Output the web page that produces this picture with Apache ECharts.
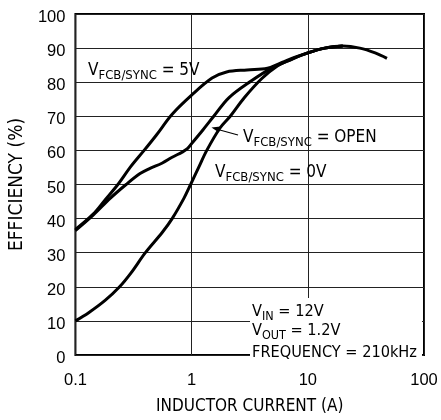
<!DOCTYPE html>
<html>
<head>
<meta charset="utf-8">
<script src="https://cdn.jsdelivr.net/npm/echarts@6/dist/echarts.min.js"></script>
<style>
html,body{margin:0;padding:0;background:#fff;}
#c{width:441px;height:420px;}
</style>
</head>
<body>
<div id="c"></div>
<script>
// ---- data ----
var xTickLabels = ['0.1', '1', '10', '100'];
var yTickLabels = ['0','10','20','30','40','50','60','70','80','90','100'];

var x5V = [0.1, 0.142, 0.18, 0.232, 0.3, 0.39, 0.5, 0.68, 1, 1.5, 2, 3, 4.5, 6, 8, 10, 14, 20, 28, 38, 48];
var y5V = [36.8, 41.3, 45.5, 50, 55.3, 60, 64.6, 70.6, 76.2, 81.2, 83, 83.6, 84.1, 85.8, 87.5, 88.6, 90, 90.6, 90, 88.6, 87];

var xOpen = [0.1, 0.142, 0.2, 0.273, 0.36, 0.43, 0.56, 0.68, 0.83, 0.92, 1, 1.25, 1.55, 2.1, 3.3, 4.8, 7, 10, 14, 20];
var yOpen = [36.5, 41, 46, 50, 53.2, 54.6, 56.3, 58, 59.5, 60.5, 62, 66, 70, 75.5, 80.5, 84, 86.5, 88.6, 90, 90.6];

var x0V = [0.1, 0.13, 0.18, 0.24, 0.3, 0.4, 0.56, 0.68, 0.86, 0.98, 1.15, 1.35, 1.75, 2.15, 2.85, 4, 5.5, 7, 10, 14, 20];
var y0V = [10, 12.4, 16, 20, 24, 30, 36, 40, 46, 50, 55, 60, 66.5, 70, 75.5, 81, 84.8, 86.5, 88.6, 90, 90.6];

var seriesNames = ['VFCB/SYNC = 5V', 'VFCB/SYNC = OPEN', 'VFCB/SYNC = 0V'];

function pairs(xs, ys) { return xs.map(function (x, i) { return [x, ys[i]]; }); }

var NARROW = "'Liberation Sans Narrow', 'DejaVu Sans Condensed', 'Liberation Sans', sans-serif";
var REG = "'Liberation Sans', Arial, sans-serif";

function sub(main1, subTxt, main2, big, small, raise) {
  return {
    text: '{m|' + main1 + '}{s|' + subTxt + '}{m|' + main2 + '}',
    rich: {
      m: { fontSize: big, fontFamily: NARROW, fill: '#000', lineHeight: big, padding: [0, 0, raise, 0], verticalAlign: 'bottom' },
      s: { fontSize: small, fontFamily: NARROW, fill: '#000', lineHeight: small, verticalAlign: 'bottom' }
    }
  };
}

var chart = echarts.init(document.getElementById('c'), null, { renderer: 'canvas' });

var lineStyle = { color: '#000', width: 3 };
var series = [[x5V, y5V], [xOpen, yOpen], [x0V, y0V]].map(function (d, i) {
  return {
    name: seriesNames[i],
    type: 'line',
    data: pairs(d[0], d[1]),
    smooth: 0.35,
    showSymbol: false,
    symbol: 'none',
    lineStyle: lineStyle,
    z: 3
  };
});

function txt(x, y, s, extra) {
  var st = Object.assign({ textAlign: 'left', textVerticalAlign: 'bottom' }, s);
  return Object.assign({ type: 'text', x: x, y: y, z: 10, style: st }, extra || {});
}

var option = {
  animation: false,
  backgroundColor: '#fff',
  grid: { left: 72, right: 17, top: 14, bottom: 55, show: true, borderColor: '#000', borderWidth: 2, containLabel: false },
  xAxis: {
    type: 'log', logBase: 10, min: 0.1, max: 100,
    name: 'INDUCTOR CURRENT (A)', nameLocation: 'middle', nameGap: 43,
    nameTextStyle: { fontFamily: NARROW, fontSize: 17, color: '#000' },
    axisLine: { show: false }, axisTick: { show: false }, minorTick: { show: false },
    splitLine: { show: true, lineStyle: { color: '#222', width: 1 } },
    axisLabel: {
      fontFamily: REG, fontSize: 16.5, color: '#000', margin: 17,
      formatter: function (v, i) { return xTickLabels[i]; }
    }
  },
  yAxis: {
    type: 'value', min: 0, max: 100, interval: 10,
    name: 'EFFICIENCY (%)', nameLocation: 'middle', nameGap: 48,
    nameTextStyle: { fontFamily: NARROW, fontSize: 19, color: '#000' },
    axisLine: { show: false }, axisTick: { show: false },
    splitLine: { show: true, lineStyle: { color: '#222', width: 1 } },
    axisLabel: {
      fontFamily: REG, fontSize: 16.5, color: '#000', margin: 10,
      verticalAlign: 'top', lineHeight: 7,
      formatter: function (v, i) { return yTickLabels[i]; }
    }
  },
  series: series,
  graphic: [
    txt(88, 82, sub('V', 'FCB/SYNC', ' = 5V', 17, 13, 3)),
    txt(243, 149, sub('V', 'FCB/SYNC', ' = OPEN', 17, 13, 3)),
    txt(215, 184, sub('V', 'FCB/SYNC', ' = 0V', 17, 13, 3)),
    { type: 'line', z: 10, shape: { x1: 238, y1: 135, x2: 218, y2: 129.5 }, style: { stroke: '#000', lineWidth: 1.2 } },
    { type: 'polygon', z: 10, shape: { points: [[211.5, 127.5], [220.5, 126.5], [218.9, 132.6]] }, style: { fill: '#000' } },
    { type: 'rect', z: 5, shape: { x: 250, y: 298, width: 172, height: 63 }, style: { fill: '#fff' } },
    txt(252, 323, sub('V', 'IN', ' = 12V', 16.2, 12.5, 3)),
    txt(252, 342, sub('V', 'OUT', ' = 1.2V', 16.2, 12.5, 3)),
    txt(252, 361, { text: 'FREQUENCY = 210kHz', fontFamily: NARROW, fontSize: 16.2, fill: '#000' })
  ]
};
chart.setOption(option);
</script>
</body>
</html>
